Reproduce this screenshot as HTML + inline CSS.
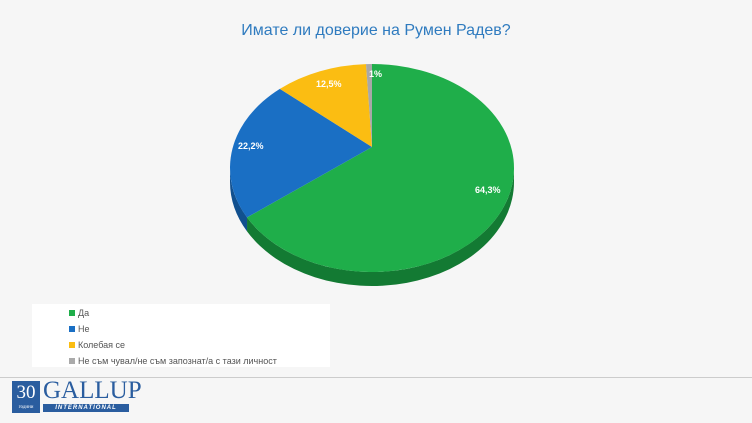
<!DOCTYPE html>
<html><head><meta charset="utf-8"><style>
body{margin:0;width:752px;height:423px;background:#f6f6f6;overflow:hidden;font-family:"Liberation Sans",sans-serif;position:relative}
.t{position:absolute;top:22px;left:0;width:752px;text-align:center;color:#2f7bbf;font-size:16px}
.lg{position:absolute;left:32px;top:304px;width:298px;height:63px;background:#fff}
.it{position:absolute;left:37px;font-size:9px;color:#555;line-height:10px}
.it i{display:inline-block;width:6px;height:6px;margin-right:3px;vertical-align:0}
.ln{position:absolute;left:0;top:377px;width:752px;height:1px;background:#ccc}
</style></head><body>
<div class="t">Имате ли доверие на Румен Радев?</div>
<svg width="752" height="423" style="position:absolute;left:0;top:0" id="s"></svg>
<div class="lg">
<div class="it" style="top:4px"><i style="background:#1fae4a"></i>Да</div>
<div class="it" style="top:20px"><i style="background:#1a6fc4"></i>Не</div>
<div class="it" style="top:36px"><i style="background:#fbbd12"></i>Колебая се</div>
<div class="it" style="top:52px"><i style="background:#aaa"></i>Не съм чувал/не съм запознат/а с тази личност</div>
</div>
<div class="ln"></div>
<div style="position:absolute;left:12px;top:381px;width:28px;height:32px;background:#2a5d9f;color:#fff;font-family:'Liberation Serif',serif;font-size:19px;text-align:center;line-height:24px">30<div style="font-size:5px;line-height:6px">години</div></div>
<div style="position:absolute;left:43px;top:379px;font-family:'Liberation Serif',serif;font-size:25px;color:#2a5d9f;line-height:24px">GALLUP</div>
<div style="position:absolute;left:43px;top:404px;width:86px;height:8px;background:#2a5d9f;color:#fff;font-size:6px;font-style:italic;font-weight:bold;text-align:center;line-height:8px;letter-spacing:1px">INTERNATIONAL</div>
<script>
var ex=372,ey=168,rx=142,ry=104,d=14,C=[372,147],s='';
function ang(x,y){var a=Math.atan2((x-ex)/rx,-(y-ey)/ry)*180/Math.PI;return a<0?a+360:a;}
function P(a,o){a=a*Math.PI/180;return [ex+rx*Math.sin(a),ey+(o||0)-ry*Math.cos(a)];}
function side(a1,a2,c){var p1=P(a1),p2=P(a2),q2=P(a2,d),q1=P(a1,d);
s+='<path d="M'+p1+' A'+rx+','+ry+' 0 0 1 '+p2+' L'+q2+' A'+rx+','+ry+' 0 0 0 '+q1+'Z" fill="'+c+'"/>';}
function sl(a1,a2,c){var p1=P(a1),p2=P(a2);s+='<path d="M'+C+' L'+p1+' A'+rx+','+ry+' 0 '+(a2-a1>180?1:0)+' 1 '+p2+'Z" fill="'+c+'"/>';}
var b1=ang(248,217),b2=ang(280,89),b3=ang(366,64.3);
side(90,b1,'#137a33');side(b1,270,'#11508f');
sl(0,b1,'#1fae4a');sl(b1,b2,'#1a6fc4');sl(b2,b3,'#fbbd12');sl(b3,360,'#a8a8a8');
function tx(x,y,t){s+='<text x="'+x+'" y="'+y+'" fill="#fff" font-size="9" font-weight="bold" font-family="Liberation Sans">'+t+'</text>';}
tx(475,193,'64,3%');tx(238,149,'22,2%');tx(316,87,'12,5%');tx(369,77,'1%');
document.getElementById('s').innerHTML=s;
</script>
</body></html>
